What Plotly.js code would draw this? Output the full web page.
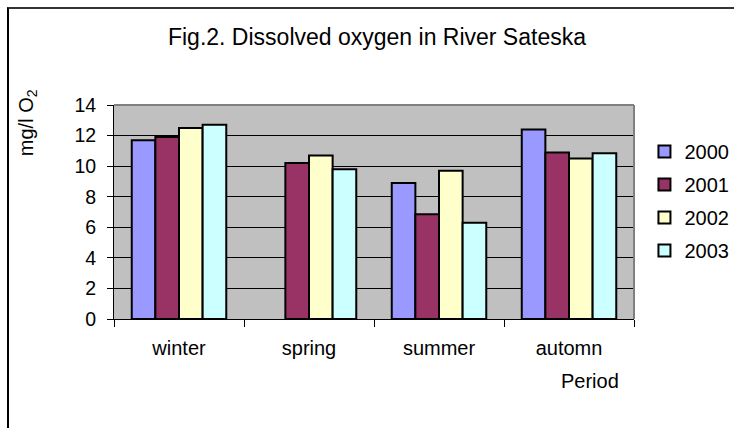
<!DOCTYPE html>
<html>
<head>
<meta charset="utf-8">
<script src="https://cdn.plot.ly/plotly-3.0.1.min.js"></script>
<style>
html,body{margin:0;padding:0;background:#fff;overflow:hidden;}
#wrap{position:relative;width:734px;height:428px;}
#chart{width:734px;height:428px;}
#frame{position:absolute;left:7px;top:7px;width:740px;height:440px;border-left:2px solid #000;border-top:2px solid #333;pointer-events:none;box-sizing:border-box;}
</style>
</head>
<body>
<div id="wrap">
<div id="chart"></div>
<div id="frame"></div>
</div>
<script>
const categories = ["winter", "spring", "summer", "automn"];
const seriesNames = ["2000", "2001", "2002", "2003"];
const values2000 = [11.7, null, 8.9, 12.4];
const values2001 = [11.9, 10.2, 6.85, 10.9];
const values2002 = [12.5, 10.7, 9.7, 10.5];
const values2003 = [12.7, 9.8, 6.3, 10.85];
const seriesColors = ["#9999FF", "#993366", "#FFFFCC", "#CCFFFF"];
const yTickVals = [0, 2, 4, 6, 8, 10, 12, 14];

const allValues = [values2000, values2001, values2002, values2003];
const traces = allValues.map((vals, i) => ({
  type: "bar",
  name: seriesNames[i],
  legendgroup: seriesNames[i],
  x: categories,
  y: vals,
  marker: {color: seriesColors[i], line: {color: "#000", width: 2}},
  hoverinfo: "x+y+name"
}));

const font = {family: "Arial, 'Liberation Sans', sans-serif", color: "#000"};
const layout = {
  width: 734, height: 428,
  margin: {l: 114, r: 100, t: 105, b: 109},
  paper_bgcolor: "#fff",
  plot_bgcolor: "#C0C0C0",
  font: Object.assign({size: 19}, font),
  barmode: "group",
  bargap: 0.273,
  bargroupgap: 0,
  showlegend: true,
  legend: {
    xref: "container", yref: "container",
    x: 0.878, xanchor: "left", y: 0.6916, yanchor: "top",
    font: Object.assign({size: 20}, font),
    tracegroupgap: 4,
    itemwidth: 30,
    bgcolor: "rgba(0,0,0,0)"
  },
  title: {
    text: "Fig.2. Dissolved oxygen in River Sateska",
    font: Object.assign({size: 23}, font),
    x: 0.5136, xref: "container", xanchor: "center",
    y: 0.913, yref: "container", yanchor: "middle"
  },
  xaxis: {
    type: "category",
    tickson: "boundaries",
    ticks: "outside", ticklen: 7, tickcolor: "#000", tickwidth: 1,
    ticklabelstandoff: 11,
    showline: true, linecolor: "#000", linewidth: 1,
    showgrid: false,
    tickfont: Object.assign({size: 20}, font),
    fixedrange: true, automargin: false
  },
  yaxis: {
    range: [0, 14],
    tickvals: yTickVals,
    ticks: "outside", ticklen: 6, tickcolor: "#000", tickwidth: 1,
    ticklabelstandoff: 7,
    showline: true, linecolor: "#000", linewidth: 1,
    showgrid: true, gridcolor: "#000", gridwidth: 1,
    zeroline: false,
    tickfont: Object.assign({size: 19.5}, font),
    fixedrange: true, automargin: false
  },
  shapes: [
    {type: "line", xref: "paper", yref: "paper", x0: 0, x1: 1, y0: 1, y1: 1, line: {color: "#808080", width: 2}},
    {type: "line", xref: "paper", yref: "paper", x0: 1, x1: 1, y0: 0, y1: 1, line: {color: "#808080", width: 2}}
  ],
  annotations: [
    {text: "mg/l O<sub>2</sub>", textangle: -90, xref: "paper", yref: "paper",
     x: -0.165, y: 0.916, xanchor: "center", yanchor: "middle", showarrow: false,
     font: Object.assign({size: 20}, font)},
    {text: "Period", xref: "paper", yref: "paper",
     x: 0.915, y: -0.29, xanchor: "center", yanchor: "middle", showarrow: false,
     font: Object.assign({size: 20}, font)}
  ]
};

Plotly.newPlot("chart", traces, layout, {displayModeBar: false, staticPlot: true});
</script>
</body>
</html>
